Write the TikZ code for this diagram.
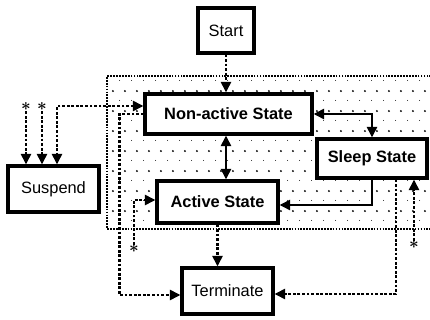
\documentclass[tikz,border=0pt]{standalone}
\usepackage{fontspec}
\setmainfont{Liberation Sans}
\usetikzlibrary{arrows.meta}
\usetikzlibrary{calc}
\usetikzlibrary{patterns}
% sparse staggered dots for the shaded area
\pgfdeclarepatternformonly{sparsedots}{\pgfpointorigin}{\pgfqpoint{10.2pt}{17pt}}{\pgfqpoint{10.2pt}{17pt}}{%
  \pgfpathcircle{\pgfqpoint{0pt}{0pt}}{0.9pt}%
  \pgfpathcircle{\pgfqpoint{5.1pt}{8.5pt}}{0.9pt}%
  \pgfusepath{fill}}
\tikzset{
    >={Triangle[length=3.2mm,width=3mm]},
    plainbox/.style = {rectangle, draw=black, line width=2.6pt, fill=white, inner sep=0pt, font=\fontsize{14}{16}\selectfont},
    statebox/.style = {plainbox, font=\fontsize{14}{16}\selectfont\bfseries},
    edgen/.style = {line width=2.4pt, ->},
    edged/.style = {line width=2.4pt, ->, dash pattern=on 2.4pt off 1.5pt}, % dotted
    star/.style = {inner sep=0pt, font=\Large\boldmath}
}

\begin{document}
\begin{tikzpicture}[x=0.3mm, y=-0.3mm]
  \useasboundingbox (0,0) rectangle (430,320);

  % shaded area
  \fill[pattern=sparsedots] (107,76) rectangle (440,229);
  \draw[line width=1.5pt, densely dotted] (440,76) -- (107,76) -- (107,229) -- (440,229);

  \node[plainbox, minimum width=16.8mm, minimum height=13.5mm] at (226,30.5) (start) {Start};
  \node[statebox, minimum width=50.1mm, minimum height=12mm] at (228.5,114) (nonactive) {Non-active State};
  \node[statebox, minimum width=33mm, minimum height=11.7mm] at (372,158.5) (sleep) {Sleep State};
  \node[statebox, minimum width=36.3mm, minimum height=12.6mm] at (217.5,202) (active) {Active State};
  \node[plainbox, minimum width=27.3mm, minimum height=13.8mm] at (53.5,189) (suspend) {Suspend};
  \node[plainbox, minimum width=27.3mm, minimum height=13.8mm] at (227.5,291) (terminate) {Terminate};

  \node[star] at (26,107) (ast1) {$\ast$};
  \node[star] at (42,107) (ast2) {$\ast$};
  \node[star] at (134,249) (ast3) {$\ast$};
  \node[star] at (414,245) (ast4) {$\ast$};

  \draw[edged] (start.south) -- (start.south |- nonactive.north);
  \draw[edgen,<->] (nonactive.south -| start.south) -- (active.north -| start.south);
  \draw[edgen,<->] (nonactive.east) -| (sleep.north);
  \draw[edgen] (sleep.south) |- ($(active.east)+(0,3)$);
  \draw[edged] (active.south) -- (active.south |- terminate.north);
  \draw[edged] ($(sleep.south)+(24,0)$) |- ($(terminate.east)+(0,3)$);
  \draw[edged] (nonactive.west) -- ++(-24,0) |- ($(terminate.west)+(0,4)$);
  \draw[edged] (ast3.north) |- ($(active.west)+(0,-2)$);
  \draw[edged] (ast4.north) -- (ast4.north |- sleep.south);

  % suspend
  \draw[edged,<->] ($(nonactive.west)+(0,-8)$) -| ($(suspend.north)+(3.5,0)$);
  \draw[edged] (ast1.south) -- (ast1.south |- suspend.north);
  \draw[edged] (ast2.south) -- (ast2.south |- suspend.north);

\end{tikzpicture}
\end{document}
